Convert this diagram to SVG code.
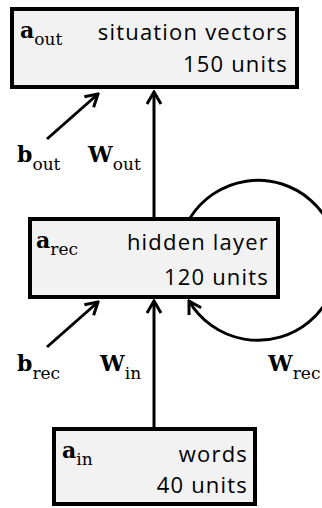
<svg xmlns="http://www.w3.org/2000/svg" width="322" height="508" viewBox="0 0 322 508">
<defs>
<style>
.box{fill:#f2f2f2;stroke:#000;stroke-width:4}
.lbl{font-family:"Open Sans","Noto Sans",sans-serif;font-size:22px;letter-spacing:1.2px;fill:#000;text-anchor:end}
.m{font-family:"DejaVu Serif","Liberation Serif",serif;font-weight:bold;font-size:22px;fill:#000}
.s{font-family:"DejaVu Serif","Liberation Serif",serif;font-weight:normal;font-size:17px}
.c{fill:none;stroke:#000;stroke-width:3}
</style>
<marker id="ah" viewBox="-14 -9 16 18" markerWidth="16" markerHeight="18" refX="0" refY="0" orient="auto" markerUnits="userSpaceOnUse">
<path d="M-12,-7 L0,0 L-12,7" fill="none" stroke="#000" stroke-width="3"/>
</marker>
</defs>
<g id="connectors">
<line class="c" x1="154" y1="217" x2="154" y2="92" marker-end="url(#ah)"/>
<line class="c" x1="47" y1="139" x2="98" y2="94" marker-end="url(#ah)"/>
<line class="c" x1="154" y1="427" x2="154" y2="301" marker-end="url(#ah)"/>
<line class="c" x1="47" y1="347" x2="98" y2="302" marker-end="url(#ah)"/>
<path class="c" d="M190,218 A80,80 0 1 1 189,301" marker-end="url(#ah)"/>
</g>
<g id="out">
<rect class="box" x="12" y="9" width="285" height="78"/>
<text class="m" x="20" y="38">a<tspan class="s" dy="7">out</tspan></text>
<text class="lbl" x="288" y="40">situation vectors</text>
<text class="lbl" x="288" y="72">150 units</text>
</g>
<g id="rec">
<rect class="box" x="30" y="219" width="248" height="78"/>
<text class="m" x="36" y="248">a<tspan class="s" dy="7">rec</tspan></text>
<text class="lbl" x="269" y="250">hidden layer</text>
<text class="lbl" x="269" y="285">120 units</text>
</g>
<g id="in">
<rect class="box" x="54" y="429" width="201" height="75"/>
<text class="m" x="62" y="458">a<tspan class="s" dy="7">in</tspan></text>
<text class="lbl" x="248" y="462">words</text>
<text class="lbl" x="248" y="493">40 units</text>
</g>
<g id="labels">
<text class="m" x="17" y="162">b<tspan class="s" dy="8">out</tspan></text>
<text class="m" x="88" y="162">W<tspan class="s" dy="8">out</tspan></text>
<text class="m" x="17" y="371">b<tspan class="s" dy="8">rec</tspan></text>
<text class="m" x="100" y="371">W<tspan class="s" dy="8">in</tspan></text>
<text class="m" x="268" y="371">W<tspan class="s" dy="8">rec</tspan></text>
</g>
</svg>
